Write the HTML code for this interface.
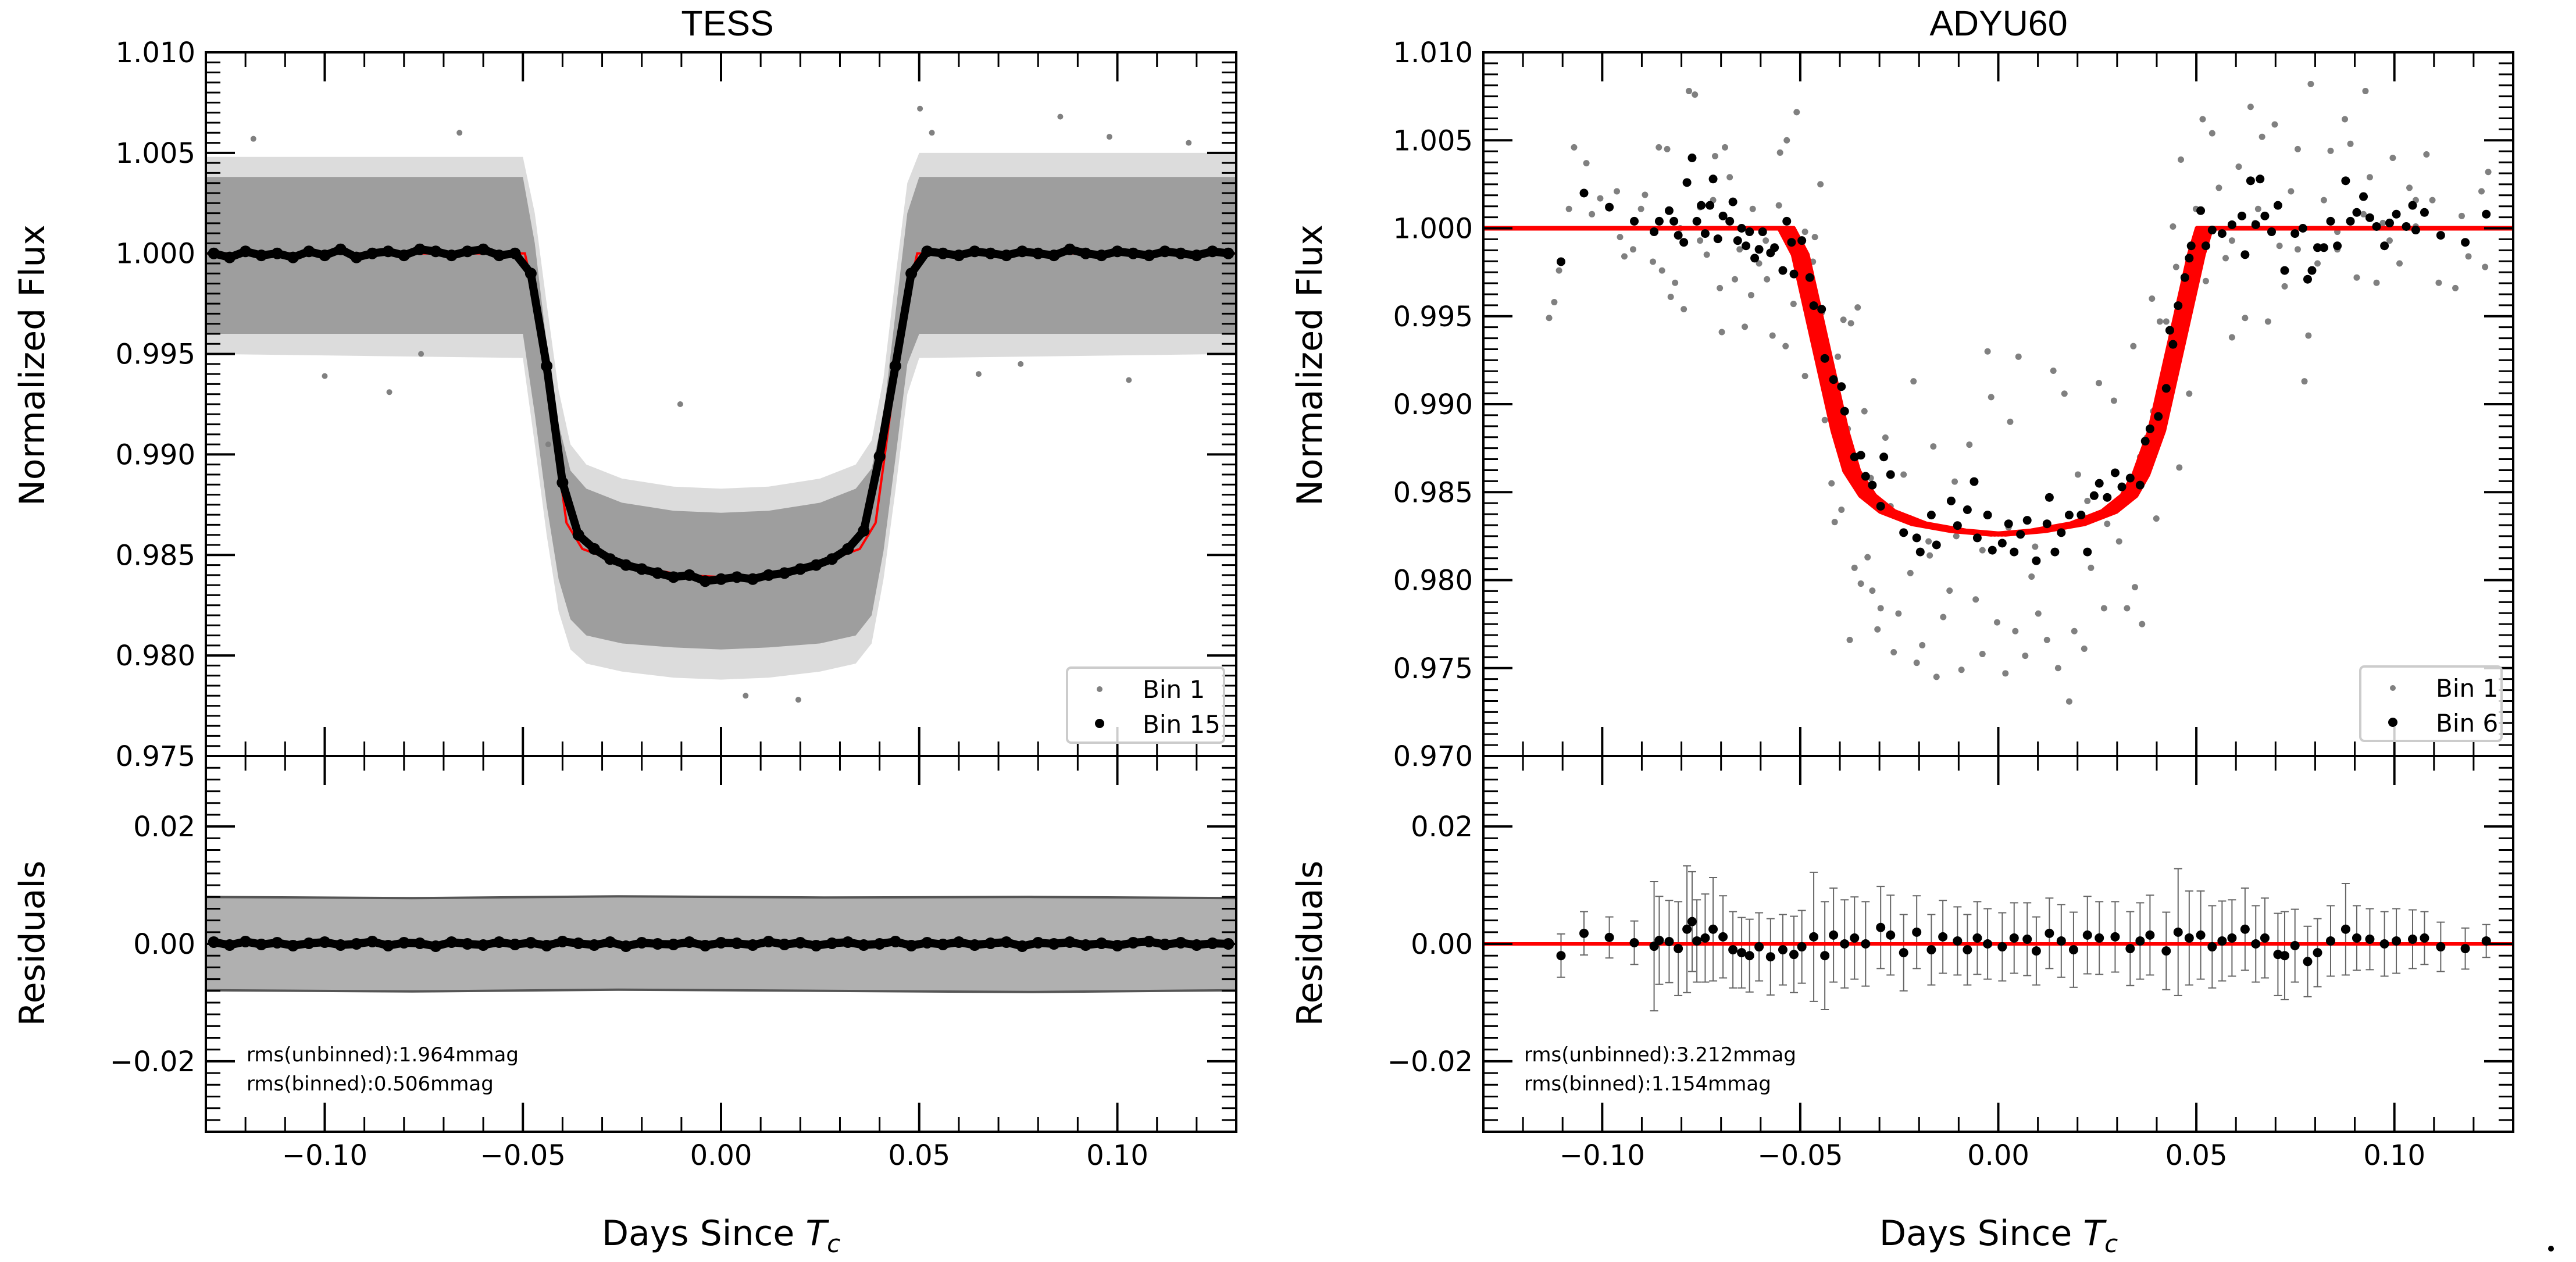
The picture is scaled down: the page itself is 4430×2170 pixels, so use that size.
<!DOCTYPE html>
<html><head><meta charset="utf-8"><title>Transit light curves</title>
<style>
html,body{margin:0;padding:0;background:#fff;}
svg{display:block;}
text{font-family:"DejaVu Sans","Liberation Sans",sans-serif;fill:#000;}
</style></head>
<body>
<svg id="chart" xmlns="http://www.w3.org/2000/svg" width="4430" height="2170" viewBox="0 0 4430 2170">
<rect x="0" y="0" width="4430" height="2170" fill="#fff"/>
<g id="layer"></g>
<text x="1251" y="61" font-size="61" text-anchor="middle" style="font-family:'Liberation Sans',sans-serif">TESS</text>
<text x="3437" y="61" font-size="61" text-anchor="middle" style="font-family:'Liberation Sans',sans-serif">ADYU60</text>
<text transform="translate(76,628) rotate(-90)" font-size="60" text-anchor="middle">Normalized Flux</text>
<text transform="translate(76,1622) rotate(-90)" font-size="60" text-anchor="middle">Residuals</text>
<text transform="translate(2273,628) rotate(-90)" font-size="60" text-anchor="middle">Normalized Flux</text>
<text transform="translate(2273,1622) rotate(-90)" font-size="60" text-anchor="middle">Residuals</text>
<text x="1240" y="2141" font-size="60" text-anchor="middle">Days Since <tspan font-style="italic">T</tspan><tspan font-style="italic" font-size="42" dy="12">c</tspan></text>
<text x="3437" y="2141" font-size="60" text-anchor="middle">Days Since <tspan font-style="italic">T</tspan><tspan font-style="italic" font-size="42" dy="12">c</tspan></text>
<text x="424" y="1825" font-size="34">rms(unbinned):1.964mmag</text>
<text x="424" y="1875" font-size="34">rms(binned):0.506mmag</text>
<text x="2621" y="1825" font-size="34">rms(unbinned):3.212mmag</text>
<text x="2621" y="1875" font-size="34">rms(binned):1.154mmag</text>
<circle cx="4387" cy="2147" r="5" fill="#000"/>
</svg>
<script>
// ---------------- data ----------------
const xTickValues = [-0.10, -0.05, 0.00, 0.05, 0.10];
const xTickLabels = ['\u22120.10', '\u22120.05', '0.00', '0.05', '0.10'];
const tessYTickValues = [1.010, 1.005, 1.000, 0.995, 0.990, 0.985, 0.980, 0.975];
const tessYTickLabels = ['1.010', '1.005', '1.000', '0.995', '0.990', '0.985', '0.980', '0.975'];
const adyuYTickValues = [1.010, 1.005, 1.000, 0.995, 0.990, 0.985, 0.980, 0.975, 0.970];
const adyuYTickLabels = ['1.010', '1.005', '1.000', '0.995', '0.990', '0.985', '0.980', '0.975', '0.970'];
const resYTickValues = [0.02, 0.00, -0.02];
const resYTickLabels = ['0.02', '0.00', '\u22120.02'];

// TESS unbinned cloud envelope (dense and sparse)
const tessBandX = [-0.13, -0.050, -0.047, -0.044, -0.041, -0.038, -0.034, -0.025, -0.012, 0, 0.012, 0.025, 0.034, 0.038, 0.041, 0.044, 0.047, 0.050, 0.13];
const tessBandHi = [1.0038, 1.0038, 1.0005, 0.9955, 0.9915, 0.9892, 0.9883, 0.9876, 0.9872, 0.9871, 0.9872, 0.9876, 0.9883, 0.9893, 0.9920, 0.9970, 1.0020, 1.0038, 1.0038];
const tessBandLo = [0.9960, 0.9960, 0.9920, 0.9875, 0.9838, 0.9818, 0.9810, 0.9806, 0.9804, 0.9803, 0.9804, 0.9806, 0.9810, 0.9820, 0.9852, 0.9898, 0.9945, 0.9960, 0.9960];
const tessOuterHi = [1.0048, 1.0048, 1.0020, 0.9975, 0.9932, 0.9905, 0.9895, 0.9888, 0.9884, 0.9883, 0.9884, 0.9888, 0.9895, 0.9907, 0.9938, 0.9988, 1.0035, 1.0050, 1.0050];
const tessOuterLo = [0.9950, 0.9948, 0.9905, 0.9860, 0.9822, 0.9803, 0.9796, 0.9792, 0.9789, 0.9788, 0.9789, 0.9792, 0.9796, 0.9806, 0.9838, 0.9882, 0.9930, 0.9948, 0.9950];
const tessOutX = [-0.1, -0.0837, -0.0757, -0.0436, -0.0103, 0.0062, 0.0195, 0.0502, 0.0532, 0.0756, 0.0856, 0.1029, 0.1180, -0.118, -0.066, 0.065, 0.098];
const tessOutY = [0.9939, 0.9931, 0.9950, 0.9905, 0.9925, 0.9780, 0.9778, 1.0072, 1.0060, 0.9945, 1.0068, 0.9937, 1.0055, 1.0057, 1.0060, 0.9940, 1.0058];

const tessModelX = [-0.13, -0.0495, -0.047, -0.044, -0.041, -0.039, -0.035, -0.025, -0.010, 0, 0.010, 0.025, 0.035, 0.039, 0.041, 0.044, 0.047, 0.0495, 0.13];
const tessModelY = [1.0000, 1.0000, 0.9978, 0.9940, 0.9895, 0.9866, 0.9853, 0.9846, 0.9840, 0.9839, 0.9840, 0.9846, 0.9853, 0.9866, 0.9895, 0.9940, 0.9978, 1.0000, 1.0000];

const tessBinX = [-0.128, -0.124, -0.120, -0.116, -0.112, -0.108, -0.104, -0.100, -0.096, -0.092, -0.088, -0.084, -0.080, -0.076, -0.072, -0.068, -0.064, -0.060, -0.056, -0.052, -0.048, -0.044, -0.040, -0.036, -0.032, -0.028, -0.024, -0.020, -0.016, -0.012, -0.008, -0.004, 0.000, 0.004, 0.008, 0.012, 0.016, 0.020, 0.024, 0.028, 0.032, 0.036, 0.040, 0.044, 0.048, 0.052, 0.056, 0.060, 0.064, 0.068, 0.072, 0.076, 0.080, 0.084, 0.088, 0.092, 0.096, 0.100, 0.104, 0.108, 0.112, 0.116, 0.120, 0.124, 0.128];
const tessBinY = [1.0000, 0.9998, 1.0001, 0.9999, 1.0000, 0.9998, 1.0001, 0.9999, 1.0002, 0.9998, 1.0000, 1.0001, 0.9999, 1.0002, 1.0001, 0.9999, 1.0001, 1.0002, 0.9999, 1.0000, 0.9990, 0.9944, 0.9886, 0.9860, 0.9853, 0.9848, 0.9845, 0.9843, 0.9841, 0.9839, 0.9840, 0.9837, 0.9838, 0.9839, 0.9838, 0.9840, 0.9841, 0.9843, 0.9845, 0.9848, 0.9853, 0.9862, 0.9899, 0.9944, 0.9990, 1.0001, 1.0000, 0.9999, 1.0001, 1.0000, 0.9999, 1.0001, 1.0000, 0.9999, 1.0002, 1.0000, 0.9999, 1.0001, 1.0000, 0.9999, 1.0001, 1.0000, 0.9999, 1.0001, 1.0000];
const tessResY = [0.0003, -0.0002, 0.0004, -0.0001, 0.0002, -0.0003, 0.0001, 0.0003, -0.0002, 0.0000, 0.0004, -0.0003, 0.0002, 0.0001, -0.0004, 0.0003, 0.0000, -0.0002, 0.0003, -0.0001, 0.0002, -0.0003, 0.0004, 0.0001, -0.0002, 0.0003, -0.0004, 0.0002, 0.0000, -0.0001, 0.0003, -0.0003, 0.0002, 0.0001, -0.0002, 0.0004, -0.0001, 0.0002, -0.0003, 0.0001, 0.0003, -0.0002, 0.0000, 0.0004, -0.0003, 0.0002, -0.0001, 0.0003, -0.0002, 0.0001, 0.0003, -0.0004, 0.0002, 0.0000, 0.0003, -0.0002, 0.0001, -0.0003, 0.0002, 0.0004, -0.0001, 0.0002, -0.0002, 0.0001, 0.0000];
const tessResErrHi = [0.0080, 0.0078, 0.0081, 0.0079, 0.0080, 0.0078];
const tessResErrLo = [-0.0079, -0.0081, -0.0078, -0.0080, -0.0082, -0.0079];
const tessResErrX = [-0.13, -0.078, -0.026, 0.026, 0.078, 0.13];

// ADYU60 model
const adyuModelX = [-0.13, -0.0535, -0.050, -0.045, -0.040, -0.037, -0.033, -0.028, -0.020, -0.010, 0, 0.010, 0.020, 0.028, 0.033, 0.036, 0.040, 0.045, 0.050, 0.052, 0.13];
const adyuModelY = [1.0000, 1.0000, 0.9985, 0.9935, 0.9885, 0.9862, 0.9848, 0.9839, 0.9832, 0.9828, 0.9826, 0.9828, 0.9832, 0.9839, 0.9848, 0.9860, 0.9885, 0.9935, 0.9985, 1.0000, 1.0000];

// ADYU60 unbinned
const adyuGrayX = [-0.1134, -0.1121, -0.1109, -0.1084, -0.1071, -0.1040, -0.1026, -0.1005, -0.0963, -0.0955, -0.0944, -0.0922, -0.0902, -0.0892, -0.0872, -0.0857, -0.0849, -0.0836, -0.0827, -0.0816, -0.0803, -0.0794, -0.0781, -0.0766, -0.0753, -0.0736, -0.0715, -0.0703, -0.0698, -0.0690, -0.0678, -0.0665, -0.0640, -0.0624, -0.0604, -0.0584, -0.0570, -0.0551, -0.0537, -0.0534, -0.0517, -0.0509, -0.0488, -0.0468, -0.0449, -0.0438, -0.0421, -0.0413, -0.0396, -0.0391, -0.0375, -0.0372, -0.0363, -0.0355, -0.0347, -0.0338, -0.0330, -0.0318, -0.0305, -0.0297, -0.0285, -0.0264, -0.0252, -0.0239, -0.0222, -0.0214, -0.0206, -0.0192, -0.0176, -0.0164, -0.0156, -0.0139, -0.0123, -0.0110, -0.0093, -0.0073, -0.0057, -0.0040, -0.0027, -0.0018, -0.0003, 0.0018, 0.0030, 0.0043, 0.0051, 0.0068, 0.0084, 0.0101, 0.0123, 0.0139, 0.0151, 0.0167, 0.0179, 0.0192, 0.0201, 0.0217, 0.0234, 0.0254, 0.0267, 0.0292, 0.0305, 0.0325, 0.0341, 0.0345, 0.0363, 0.0375, 0.0388, 0.0399, 0.0408, 0.0433, 0.0441, 0.0457, 0.0461, 0.0471, 0.0482, 0.0499, 0.0516, 0.0524, 0.0540, 0.0557, 0.0574, 0.0590, 0.0607, 0.0623, 0.0637, 0.0656, 0.0666, 0.0681, 0.0698, 0.0710, 0.0723, 0.0739, 0.0756, 0.0773, 0.0783, 0.0789, 0.0806, 0.0822, 0.0839, 0.0856, 0.0875, 0.0889, 0.0905, 0.0927, 0.0938, 0.0955, 0.0971, 0.0996, 0.1013, 0.1038, 0.1054, 0.1081, 0.1096, 0.1112, 0.1154, 0.1170, 0.1187, 0.1220, 0.1229, 0.1237, -0.0488, -0.0463, -0.0446, -0.0405, -0.0380, -0.0358, -0.0322, -0.0272, -0.0222, -0.0173, -0.0106, -0.0040, 0.0026, 0.0093, 0.0159, 0.0225, 0.0275, 0.0358, 0.0391, 0.0424, 0.0449, -0.0753, -0.0720, -0.0653, -0.0620, -0.0587, -0.0554, 0.0590, 0.0648, 0.0756, 0.0856, 0.0922, 0.0988, 0.1054];
const adyuGrayY = [0.9949, 0.9958, 0.9976, 1.0011, 1.0046, 1.0037, 1.0008, 1.0017, 1.0021, 0.9995, 0.9984, 0.9988, 1.0011, 1.0019, 0.9981, 1.0046, 0.9976, 1.0045, 0.9961, 0.9969, 1.0000, 0.9954, 1.0078, 1.0076, 1.0012, 0.9985, 1.0041, 0.9966, 0.9941, 1.0046, 1.0029, 0.9971, 0.9944, 0.9962, 0.9980, 0.9971, 0.9939, 1.0043, 0.9933, 1.0050, 0.9957, 1.0066, 0.9916, 0.9981, 1.0025, 0.9891, 0.9855, 0.9833, 0.9840, 0.9948, 0.9766, 0.9946, 0.9807, 0.9955, 0.9798, 0.9896, 0.9813, 0.9794, 0.9772, 0.9784, 0.9881, 0.9759, 0.9781, 0.9860, 0.9804, 0.9913, 0.9753, 0.9763, 0.9822, 0.9876, 0.9745, 0.9779, 0.9794, 0.9856, 0.9749, 0.9877, 0.9789, 0.9758, 0.9930, 0.9904, 0.9776, 0.9747, 0.9890, 0.9771, 0.9927, 0.9757, 0.9802, 0.9781, 0.9766, 0.9919, 0.9750, 0.9906, 0.9731, 0.9771, 0.9860, 0.9761, 0.9807, 0.9912, 0.9784, 0.9902, 0.9822, 0.9784, 0.9933, 0.9796, 0.9775, 0.9881, 0.9960, 0.9835, 0.9947, 0.9924, 1.0001, 0.9864, 1.0039, 0.9955, 0.9906, 1.0011, 1.0062, 0.9970, 1.0054, 1.0023, 0.9983, 0.9938, 1.0035, 0.9949, 1.0069, 1.0011, 1.0052, 0.9947, 1.0059, 0.9990, 0.9967, 1.0021, 1.0045, 0.9913, 0.9939, 1.0082, 0.9980, 1.0016, 1.0044, 0.9998, 1.0062, 1.0048, 0.9972, 1.0078, 1.0029, 0.9969, 1.0003, 1.0040, 0.9980, 1.0023, 1.0016, 1.0042, 1.0016, 0.9969, 0.9966, 1.0007, 0.9984, 1.0021, 0.9978, 1.0032, 0.9998, 0.9995, 0.9952, 0.9927, 0.9886, 0.9870, 0.9858, 0.9842, 0.9835, 0.9814, 0.9825, 0.9817, 0.9830, 0.9819, 0.9830, 0.9845, 0.9832, 0.9870, 0.9896, 0.9947, 0.9978, 0.9993, 1.0016, 0.9988, 1.0011, 0.9993, 1.0013, 0.9993, 1.0003, 0.9988, 0.9988, 1.0008, 0.9993, 1.0001];

// ADYU60 binned (Bin 6)
const adyuBinX = [-0.1104, -0.1046, -0.0982, -0.0919, -0.0869, -0.0856, -0.0831, -0.0819, -0.0808, -0.0794, -0.0786, -0.0773, -0.0761, -0.0750, -0.0740, -0.0728, -0.0720, -0.0708, -0.0695, -0.0678, -0.0670, -0.0658, -0.0648, -0.0637, -0.0628, -0.0615, -0.0604, -0.0595, -0.0575, -0.0565, -0.0544, -0.0534, -0.0522, -0.0516, -0.0496, -0.0476, -0.0466, -0.0446, -0.0438, -0.0416, -0.0396, -0.0388, -0.0363, -0.0347, -0.0335, -0.0318, -0.0289, -0.0272, -0.0297, -0.0239, -0.0206, -0.0197, -0.0169, -0.0156, -0.0119, -0.0103, -0.0078, -0.0061, -0.0053, -0.0027, -0.0015, 0.0010, 0.0026, 0.0040, 0.0056, 0.0073, 0.0096, 0.0123, 0.0129, 0.0143, 0.0159, 0.0179, 0.0209, 0.0225, 0.0242, 0.0255, 0.0275, 0.0295, 0.0312, 0.0333, 0.0358, 0.0371, 0.0383, 0.0404, 0.0424, 0.0441, 0.0433, 0.0454, 0.0471, 0.0482, 0.0487, 0.0511, 0.0524, 0.0540, 0.0565, 0.0590, 0.0615, 0.0623, 0.0637, 0.0650, 0.0661, 0.0673, 0.0690, 0.0706, 0.0723, 0.0749, 0.0769, 0.0781, 0.0792, 0.0806, 0.0822, 0.0839, 0.0856, 0.0877, 0.0889, 0.0905, 0.0922, 0.0938, 0.0955, 0.0975, 0.0988, 0.1005, 0.1030, 0.1046, 0.1054, 0.1076, 0.1117, 0.1179, 0.1232];
const adyuBinY = [0.9981, 1.0020, 1.0012, 1.0004, 0.9998, 1.0004, 1.0010, 1.0004, 0.9996, 0.9992, 1.0026, 1.0040, 1.0004, 1.0013, 0.9997, 1.0013, 1.0028, 0.9994, 1.0007, 1.0004, 1.0015, 0.9993, 1.0000, 0.9990, 0.9998, 0.9983, 0.9988, 0.9998, 0.9986, 0.9989, 0.9976, 1.0004, 0.9992, 0.9974, 0.9993, 0.9972, 0.9956, 0.9954, 0.9926, 0.9914, 0.9910, 0.9896, 0.9870, 0.9871, 0.9859, 0.9854, 0.9870, 0.9860, 0.9842, 0.9827, 0.9824, 0.9816, 0.9837, 0.9820, 0.9845, 0.9831, 0.9840, 0.9856, 0.9824, 0.9837, 0.9817, 0.9821, 0.9832, 0.9816, 0.9826, 0.9834, 0.9811, 0.9832, 0.9847, 0.9816, 0.9827, 0.9837, 0.9837, 0.9816, 0.9848, 0.9855, 0.9847, 0.9861, 0.9853, 0.9858, 0.9854, 0.9879, 0.9886, 0.9893, 0.9909, 0.9934, 0.9942, 0.9956, 0.9972, 0.9983, 0.9990, 1.0010, 0.9990, 0.9999, 0.9997, 1.0002, 1.0007, 0.9985, 1.0027, 1.0002, 1.0028, 1.0007, 0.9998, 1.0013, 0.9976, 0.9997, 1.0000, 0.9971, 0.9976, 0.9989, 0.9989, 1.0004, 0.9990, 1.0027, 1.0004, 1.0009, 1.0018, 1.0006, 1.0001, 0.9990, 1.0003, 1.0008, 1.0001, 1.0013, 0.9999, 1.0009, 0.9996, 0.9992, 1.0008];

// ADYU60 residuals
const adyuResX = [-0.1104, -0.1046, -0.0982, -0.0919, -0.0869, -0.0856, -0.0831, -0.0808, -0.0786, -0.0773, -0.0761, -0.0740, -0.0720, -0.0695, -0.0670, -0.0648, -0.0628, -0.0604, -0.0575, -0.0544, -0.0516, -0.0496, -0.0466, -0.0438, -0.0416, -0.0388, -0.0363, -0.0335, -0.0297, -0.0272, -0.0239, -0.0206, -0.0169, -0.0140, -0.0103, -0.0078, -0.0053, -0.0027, 0.0010, 0.0040, 0.0073, 0.0096, 0.0129, 0.0159, 0.0190, 0.0225, 0.0255, 0.0295, 0.0333, 0.0358, 0.0383, 0.0424, 0.0454, 0.0482, 0.0511, 0.0540, 0.0565, 0.0590, 0.0623, 0.0650, 0.0673, 0.0706, 0.0723, 0.0749, 0.0781, 0.0806, 0.0839, 0.0877, 0.0905, 0.0938, 0.0975, 0.1005, 0.1046, 0.1076, 0.1117, 0.1179, 0.1232];
const adyuResY = [-0.0020, 0.0018, 0.0011, 0.0002, -0.0004, 0.0006, 0.0004, -0.0008, 0.0025, 0.0038, 0.0005, 0.0010, 0.0025, 0.0012, -0.0010, -0.0015, -0.0020, -0.0005, -0.0022, -0.0010, -0.0018, -0.0005, 0.0012, -0.0020, 0.0015, 0.0000, 0.0010, 0.0000, 0.0028, 0.0015, -0.0015, 0.0020, -0.0010, 0.0012, 0.0005, -0.0010, 0.0010, 0.0000, -0.0005, 0.0010, 0.0008, -0.0012, 0.0018, 0.0005, -0.0010, 0.0015, 0.0010, 0.0012, -0.0008, 0.0005, 0.0015, -0.0012, 0.0020, 0.0010, 0.0015, -0.0005, 0.0005, 0.0010, 0.0025, 0.0000, 0.0010, -0.0018, -0.0020, -0.0003, -0.0030, -0.0015, 0.0005, 0.0025, 0.0010, 0.0008, 0.0000, 0.0005, 0.0008, 0.0010, -0.0005, -0.0008, 0.0005];
const adyuResErr = [0.0037, 0.0037, 0.0035, 0.0037, 0.0110, 0.0075, 0.0070, 0.0080, 0.0108, 0.0085, 0.0070, 0.0075, 0.0088, 0.0070, 0.0065, 0.0060, 0.0062, 0.0058, 0.0065, 0.0060, 0.0065, 0.0062, 0.0110, 0.0092, 0.0080, 0.0075, 0.0070, 0.0072, 0.0070, 0.0068, 0.0065, 0.0062, 0.0060, 0.0062, 0.0058, 0.0060, 0.0062, 0.0060, 0.0058, 0.0060, 0.0062, 0.0058, 0.0060, 0.0062, 0.0064, 0.0066, 0.0062, 0.0060, 0.0063, 0.0065, 0.0068, 0.0066, 0.0108, 0.0080, 0.0075, 0.0070, 0.0068, 0.0065, 0.0070, 0.0065, 0.0068, 0.0070, 0.0075, 0.0062, 0.0060, 0.0058, 0.0060, 0.0078, 0.0055, 0.0052, 0.0055, 0.0055, 0.0050, 0.0045, 0.0042, 0.0035, 0.0028];

// ---------------- drawing ----------------
const NS = 'http://www.w3.org/2000/svg';
const layer = document.getElementById('layer');
function mk(tag, parent) { const e = document.createElementNS(NS, tag); (parent || layer).appendChild(e); return e; }

const TOP = 90, MID = 1300, BOT = 1946;
const panels = {
  tess: { x0: 354, x1: 2126, ymin: 0.975, ymax: 1.010, minor: 0.0005 },
  adyu: { x0: 2551, x1: 4322, ymin: 0.970, ymax: 1.010, minor: 0.000625 }
};
const XMIN = -0.13, XMAX = 0.13, RMIN = -0.032, RMAX = 0.032;
function sx(p, v) { return p.x0 + (v - XMIN) / (XMAX - XMIN) * (p.x1 - p.x0); }
function sy(p, v) { return TOP + (p.ymax - v) / (p.ymax - p.ymin) * (MID - TOP); }
function ry(v) { return MID + (RMAX - v) / (RMAX - RMIN) * (BOT - MID); }

function pathFrom(xs, ys, fx, fy) {
  let d = '';
  for (let i = 0; i < Math.min(xs.length, ys.length); i++) d += (i ? 'L' : 'M') + fx(xs[i]).toFixed(1) + ',' + fy(ys[i]).toFixed(1);
  return d;
}
function bandPath(xs, hi, lo, fx, fy) {
  let d = pathFrom(xs, hi, fx, fy);
  for (let i = xs.length - 1; i >= 0; i--) d += 'L' + fx(xs[i]).toFixed(1) + ',' + fy(lo[i]).toFixed(1);
  return d + 'Z';
}

function drawAxes(p, key, yVals, yLabs) {
  const g = mk('g');
  
  
  const sw = 4;
  function tick(x1, y1, x2, y2, w, name) {
    const l = mk('line', g);
    l.setAttribute('x1', x1); l.setAttribute('y1', y1); l.setAttribute('x2', x2); l.setAttribute('y2', y2);
    l.setAttribute('stroke', '#000'); l.setAttribute('stroke-width', w);
    
    
  }
  const nx = Math.round((XMAX - XMIN) / 0.01);
  for (let i = 0; i <= nx; i++) {
    const v = XMIN + i * 0.01;
    const major = Math.abs(v / 0.05 - Math.round(v / 0.05)) < 1e-6;
    const L = major ? 50 : 25, w = major ? 4 : 3;
    const X = sx(p, v);
    [[TOP, 1], [MID, -1], [MID, 1], [BOT, -1]].forEach(([y, dir]) => tick(X, y, X, y + dir * L, w, key + '-x-tick'));
  }
  const ny = Math.round((p.ymax - p.ymin) / p.minor);
  for (let i = 0; i <= ny; i++) {
    const v = p.ymin + i * p.minor;
    const major = Math.abs(v / 0.005 - Math.round(v / 0.005)) < 1e-6;
    const L = major ? 50 : 25, w = major ? 4 : 3;
    const Y = sy(p, v);
    tick(p.x0, Y, p.x0 + L, Y, w, key + '-y-tick');
    tick(p.x1, Y, p.x1 - L, Y, w, key + '-y-tick');
  }
  const nr = Math.round((RMAX - RMIN) / 0.002);
  for (let i = 0; i <= nr; i++) {
    const v = RMIN + i * 0.002;
    const major = Math.abs(v / 0.02 - Math.round(v / 0.02)) < 1e-6;
    const L = major ? 50 : 25, w = major ? 4 : 3;
    const Y = ry(v);
    tick(p.x0, Y, p.x0 + L, Y, w, key + '-residual-y-tick');
    tick(p.x1, Y, p.x1 - L, Y, w, key + '-residual-y-tick');
  }
  const r1 = mk('rect', g);
  r1.setAttribute('x', p.x0); r1.setAttribute('y', TOP); r1.setAttribute('width', p.x1 - p.x0); r1.setAttribute('height', MID - TOP);
  r1.setAttribute('fill', 'none'); r1.setAttribute('stroke', '#000'); r1.setAttribute('stroke-width', sw);
  
  
  const r2 = mk('rect', g);
  r2.setAttribute('x', p.x0); r2.setAttribute('y', MID); r2.setAttribute('width', p.x1 - p.x0); r2.setAttribute('height', BOT - MID);
  r2.setAttribute('fill', 'none'); r2.setAttribute('stroke', '#000'); r2.setAttribute('stroke-width', sw);
  
  
  for (let i = 0; i < yVals.length; i++) {
    const t = mk('text', g);
    t.setAttribute('x', p.x0 - 18); t.setAttribute('y', sy(p, yVals[i]) + 17);
    t.setAttribute('font-size', '48'); t.setAttribute('text-anchor', 'end');
    
    
    t.textContent = yLabs[i];
  }
  for (let i = 0; i < resYTickValues.length; i++) {
    const t = mk('text', g);
    t.setAttribute('x', p.x0 - 18); t.setAttribute('y', ry(resYTickValues[i]) + 17);
    t.setAttribute('font-size', '48'); t.setAttribute('text-anchor', 'end');
    
    
    t.textContent = resYTickLabels[i];
  }
  for (let i = 0; i < xTickValues.length; i++) {
    const t = mk('text', g);
    t.setAttribute('x', sx(p, xTickValues[i])); t.setAttribute('y', 2003);
    t.setAttribute('font-size', '48'); t.setAttribute('text-anchor', 'middle');
    
    
    t.textContent = xTickLabels[i];
  }
}

function clip(p, id, y0, y1) {
  const c = mk('clipPath');
  c.setAttribute('id', id);
  const r = mk('rect', c);
  r.setAttribute('x', p.x0); r.setAttribute('y', y0); r.setAttribute('width', p.x1 - p.x0); r.setAttribute('height', y1 - y0);
}

// ---- TESS ----
(function () {
  const p = panels.tess;
  clip(p, 'tessMainClip', TOP, MID);
  clip(p, 'tessResClip', MID, BOT);
  const g = mk('g'); g.setAttribute('clip-path', 'url(#tessMainClip)');
  
  
  const fx = v => sx(p, v), fy = v => sy(p, v);
  const outer = mk('path', g);
  outer.setAttribute('d', bandPath(tessBandX, tessOuterHi, tessOuterLo, fx, fy));
  outer.setAttribute('fill', '#8a8a8a'); outer.setAttribute('fill-opacity', '0.3');
  
  
  const band = mk('path', g);
  band.setAttribute('d', bandPath(tessBandX, tessBandHi, tessBandLo, fx, fy));
  band.setAttribute('fill', '#8a8a8a'); band.setAttribute('fill-opacity', '0.75');
  
  
  for (let i = 0; i < tessOutX.length; i++) {
    const c = mk('circle', g);
    c.setAttribute('cx', fx(tessOutX[i])); c.setAttribute('cy', fy(tessOutY[i])); c.setAttribute('r', 5); c.setAttribute('fill', '#808080');
    
    
  }
  const m = mk('path', g);
  m.setAttribute('d', pathFrom(tessModelX, tessModelY, fx, fy));
  m.setAttribute('fill', 'none'); m.setAttribute('stroke', '#ff0000'); m.setAttribute('stroke-width', 4);
  
  
  const bl = mk('path', g);
  bl.setAttribute('d', pathFrom(tessBinX, tessBinY, fx, fy));
  bl.setAttribute('fill', 'none'); bl.setAttribute('stroke', '#000'); bl.setAttribute('stroke-width', 14); bl.setAttribute('stroke-linejoin', 'round');
  
  
  for (let i = 0; i < tessBinX.length; i++) {
    const c = mk('circle', g);
    c.setAttribute('cx', fx(tessBinX[i])); c.setAttribute('cy', fy(tessBinY[i])); c.setAttribute('r', 10); c.setAttribute('fill', '#000');
    
    
  }
  const gr = mk('g'); gr.setAttribute('clip-path', 'url(#tessResClip)');
  
  
  const eb = mk('path', gr);
  eb.setAttribute('d', bandPath(tessResErrX, tessResErrHi, tessResErrLo, fx, ry));
  eb.setAttribute('fill', '#b0b0b0'); eb.setAttribute('stroke', '#555'); eb.setAttribute('stroke-width', 4);
  
  
  const rl = mk('path', gr);
  rl.setAttribute('d', pathFrom(tessBinX, tessResY, fx, ry));
  rl.setAttribute('fill', 'none'); rl.setAttribute('stroke', '#000'); rl.setAttribute('stroke-width', 14);
  
  
  for (let i = 0; i < tessBinX.length; i++) {
    const c = mk('circle', gr);
    c.setAttribute('cx', fx(tessBinX[i])); c.setAttribute('cy', ry(tessResY[i])); c.setAttribute('r', 10); c.setAttribute('fill', '#000');
    
    
  }
  drawAxes(p, 'tess', tessYTickValues, tessYTickLabels);
})();

// ---- ADYU60 ----
(function () {
  const p = panels.adyu;
  clip(p, 'adyuMainClip', TOP, MID);
  clip(p, 'adyuResClip', MID, BOT);
  const g = mk('g'); g.setAttribute('clip-path', 'url(#adyuMainClip)');
  
  
  const fx = v => sx(p, v), fy = v => sy(p, v);
  for (let i = 0; i < Math.min(adyuGrayX.length, adyuGrayY.length); i++) {
    const c = mk('circle', g);
    c.setAttribute('cx', fx(adyuGrayX[i])); c.setAttribute('cy', fy(adyuGrayY[i])); c.setAttribute('r', 5.5); c.setAttribute('fill', '#808080');
    
    
  }
  [-0.0018, -0.0009, 0, 0.0009, 0.0018].forEach(function (sh) {
    const m = mk('path', g);
    m.setAttribute('d', pathFrom(adyuModelX, adyuModelY, v => fx(v + sh), fy));
    m.setAttribute('fill', 'none'); m.setAttribute('stroke', '#ff0000'); m.setAttribute('stroke-width', 8); m.setAttribute('stroke-linejoin', 'round');
    
    
  });
  const flat = mk('path', g);
  flat.setAttribute('d', pathFrom(adyuModelX, adyuModelY, fx, fy));
  flat.setAttribute('fill', 'none'); flat.setAttribute('stroke', '#ff0000'); flat.setAttribute('stroke-width', 5);
  
  
  for (let i = 0; i < Math.min(adyuBinX.length, adyuBinY.length); i++) {
    const c = mk('circle', g);
    c.setAttribute('cx', fx(adyuBinX[i])); c.setAttribute('cy', fy(adyuBinY[i])); c.setAttribute('r', 7.5); c.setAttribute('fill', '#000');
    
    
  }
  const gr = mk('g'); gr.setAttribute('clip-path', 'url(#adyuResClip)');
  
  
  const n = Math.min(adyuResX.length, adyuResY.length, adyuResErr.length);
  for (let i = 0; i < n; i++) {
    const X = fx(adyuResX[i]), y1 = ry(adyuResY[i] + adyuResErr[i]), y2 = ry(adyuResY[i] - adyuResErr[i]);
    const e = mk('path', gr);
    e.setAttribute('d', 'M' + X + ',' + y1 + 'L' + X + ',' + y2 + 'M' + (X - 7) + ',' + y1 + 'L' + (X + 7) + ',' + y1 + 'M' + (X - 7) + ',' + y2 + 'L' + (X + 7) + ',' + y2);
    e.setAttribute('stroke', '#666'); e.setAttribute('stroke-width', 2); e.setAttribute('fill', 'none');
    
    
  }
  const z = mk('line', gr);
  z.setAttribute('x1', p.x0); z.setAttribute('x2', p.x1); z.setAttribute('y1', ry(0)); z.setAttribute('y2', ry(0));
  z.setAttribute('stroke', '#ff0000'); z.setAttribute('stroke-width', 6);
  
  
  for (let i = 0; i < n; i++) {
    const c = mk('circle', gr);
    c.setAttribute('cx', fx(adyuResX[i])); c.setAttribute('cy', ry(adyuResY[i])); c.setAttribute('r', 8); c.setAttribute('fill', '#000');
    
    
  }
  drawAxes(p, 'adyu60', adyuYTickValues, adyuYTickLabels);
})();

// ---- legends ----
function legend(key, bx, by, bw, bh, label2) {
  const g = mk('g');
  
  
  const r = mk('rect', g);
  r.setAttribute('x', bx); r.setAttribute('y', by); r.setAttribute('width', bw); r.setAttribute('height', bh); r.setAttribute('rx', 7);
  r.setAttribute('fill', '#fff'); r.setAttribute('fill-opacity', '0.8'); r.setAttribute('stroke', '#cccccc'); r.setAttribute('stroke-width', 4);
  
  
  const c1 = mk('circle', g);
  c1.setAttribute('cx', bx + 56); c1.setAttribute('cy', by + 37); c1.setAttribute('r', 5); c1.setAttribute('fill', '#808080');
  
  
  const c2 = mk('circle', g);
  c2.setAttribute('cx', bx + 56); c2.setAttribute('cy', by + 96); c2.setAttribute('r', 8); c2.setAttribute('fill', '#000');
  
  
  const t1 = mk('text', g);
  t1.setAttribute('x', bx + 130); t1.setAttribute('y', by + 52); t1.setAttribute('font-size', '42');
  
  
  t1.textContent = 'Bin 1';
  const t2 = mk('text', g);
  t2.setAttribute('x', bx + 130); t2.setAttribute('y', by + 112); t2.setAttribute('font-size', '42');
  
  
  t2.textContent = label2;
}
legend('tess', 1835, 1148, 270, 129, 'Bin 15');
legend('adyu60', 4059, 1146, 243, 128, 'Bin 6');
</script>
</body></html>
